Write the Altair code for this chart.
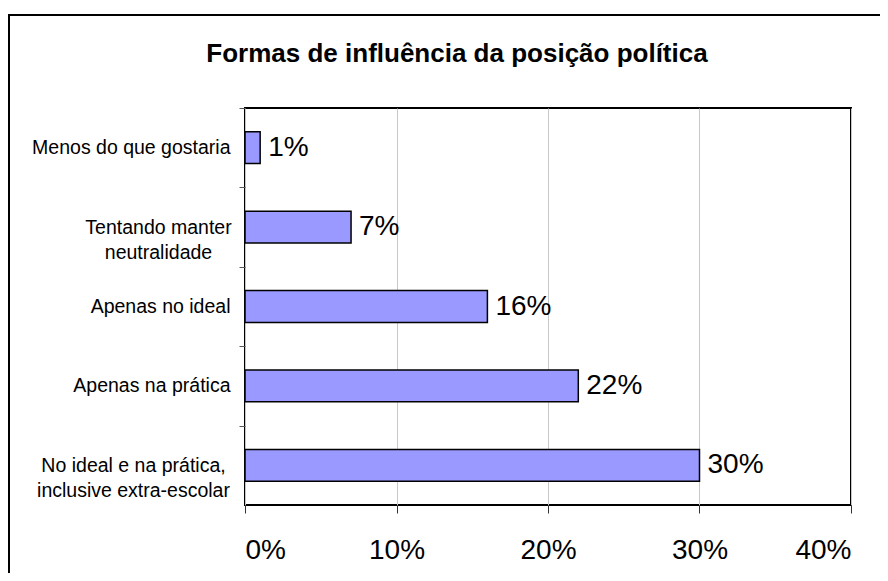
import altair as alt
import pandas as pd

title_text = "Formas de influência da posição política"
categories = [
    "Menos do que gostaria",
    "Tentando manter\nneutralidade",
    "Apenas no ideal",
    "Apenas na prática",
    "No ideal e na prática,\ninclusive extra-escolar",
]
values = [0.01, 0.07, 0.16, 0.22, 0.30]
x_ticks = [0, 0.1, 0.2, 0.3, 0.4]

FONT = "Liberation Sans"

df = pd.DataFrame({"cat": categories, "val": values})

# half of the inner band padding, so ticks fall midway between bars
HALF_GAP = 0.3 * 397 / 5

y_enc = alt.Y(
    "cat:N",
    sort=categories,
    title=None,
    scale=alt.Scale(paddingInner=0.6, paddingOuter=0.3),
    axis=alt.Axis(
        labelExpr="isValid(datum.value) ? split(datum.value, '\\n') : ''",
        labelFont=FONT,
        labelFontSize=19.5,
        labelColor="black",
        labelLineHeight=25,
        labelLimit=400,
        labelAlign={
            "condition": {"test": "indexof(datum.value, '\\n') >= 0", "value": "center"},
            "value": "right",
        },
        labelPadding={
            "condition": [
                {"test": "indexof(datum.value, 'neutralidade') >= 0", "value": 81},
                {"test": "indexof(datum.value, 'extra-escolar') >= 0", "value": 106},
            ],
            "value": 9,
        },
        bandPosition=0,
        tickOffset=-HALF_GAP,
        labelOffset=HALF_GAP,
        tickSize=6,
        tickColor="#555555",
        domain=False,
        grid=False,
    ),
)

x_enc = alt.X(
    "val:Q",
    title=None,
    scale=alt.Scale(domain=[0, 0.4], nice=False),
    axis=alt.Axis(
        values=x_ticks,
        format=".0%",
        labelFont=FONT,
        labelFontSize=28,
        labelColor="black",
        labelPadding=23,
        tickSize=8,
        tickColor="#333333",
        domain=False,
        grid=True,
        gridColor="#c8c8c8",
        gridWidth=1,
    ),
)

base = alt.Chart(df).encode(y=y_enc, x=x_enc)

bars = base.mark_bar(color="#9999FF", stroke="black", strokeWidth=1.5)
labels = base.mark_text(
    align="left", baseline="middle", dx=8, font=FONT, fontSize=28, color="black"
).encode(text=alt.Text("val:Q", format=".0%"))

one = pd.DataFrame({"t": [title_text]})
title = alt.Chart(one).mark_text(
    align="center", baseline="alphabetic", font=FONT, fontSize=26,
    fontWeight="bold", color="black"
).encode(x=alt.value(212), y=alt.value(-46), text="t:N")

frame = alt.Chart(one).mark_rect(
    fillOpacity=0, stroke="black", strokeWidth=2
).encode(x=alt.value(-236), x2=alt.value(700), y=alt.value(-93), y2=alt.value(530))

chart = alt.layer(bars, labels, title, frame).properties(
    width=606,
    height=397,
    padding={"left": 237, "top": 100, "right": 29, "bottom": 68},
    autosize=alt.AutoSizeParams(type="none"),
    background="white",
).configure_view(stroke="black", strokeWidth=2)

chart.save("out.html", embed_options={"renderer": "svg", "actions": False})
